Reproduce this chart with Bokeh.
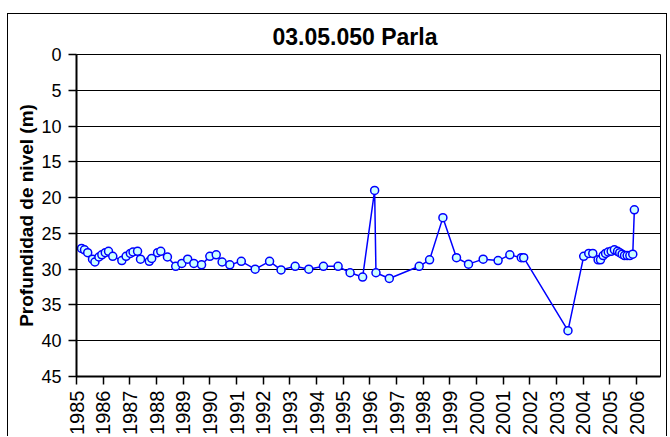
import math
from bokeh.plotting import figure
from bokeh.models import Range1d, FixedTicker
from bokeh.embed import file_html
from bokeh.resources import INLINE

# Decimal dates (years) and water depth (m)
dates = [
    1985.19, 1985.30, 1985.42, 1985.60, 1985.69, 1985.84, 1985.95, 1986.08, 1986.20, 1986.36,
    1986.70, 1986.86, 1987.02, 1987.12, 1987.29, 1987.40, 1987.73, 1987.82, 1988.04, 1988.16,
    1988.41, 1988.72, 1988.95, 1989.17, 1989.40, 1989.69, 1990.00, 1990.24, 1990.46, 1990.75,
    1991.18, 1991.70, 1992.24, 1992.67, 1993.20, 1993.71, 1994.26, 1994.81, 1995.26, 1995.73,
    1996.18, 1996.23, 1996.73, 1997.85, 1998.24, 1998.74, 1999.25, 1999.70, 2000.25, 2000.81,
    2001.25, 2001.68, 2001.77, 2003.43, 2004.02, 2004.21, 2004.36, 2004.56, 2004.65, 2004.75,
    2004.84, 2004.94, 2005.05, 2005.17, 2005.29, 2005.37, 2005.46, 2005.55, 2005.65, 2005.75,
    2005.86, 2005.92,
]
depth = [
    27.1, 27.3, 27.7, 28.6, 29.0, 28.3, 28.0, 27.7, 27.5, 28.2,
    28.8, 28.2, 27.8, 27.6, 27.5, 28.6, 28.9, 28.5, 27.7, 27.5,
    28.3, 29.6, 29.2, 28.6, 29.2, 29.4, 28.2, 28.0, 29.0, 29.4,
    28.9, 30.0, 28.9, 30.1, 29.6, 30.0, 29.6, 29.6, 30.5, 31.1,
    19.0, 30.5, 31.3, 29.6, 28.7, 22.8, 28.4, 29.3, 28.6, 28.8,
    28.0, 28.4, 28.4, 38.6, 28.2, 27.8, 27.8, 28.7, 28.7, 28.1,
    27.8, 27.6, 27.5, 27.3, 27.5, 27.7, 27.9, 28.1, 28.1, 28.1,
    27.9, 21.7,
]
year_ticks = list(range(1985, 2007))
depth_ticks = [0, 5, 10, 15, 20, 25, 30, 35, 40, 45]

FONT = "Liberation Sans"

p = figure(
    width=660, height=423,
    x_range=Range1d(1985, 2006.9), y_range=Range1d(45, 0),
    output_backend="svg", toolbar_location=None,
    title="03.05.050 Parla",
    min_border_left=68, min_border_right=8, min_border_top=40, min_border_bottom=59,
)
p.margin = (13, 0, 0, 7)
p.styles = {"border-top": "1px solid black", "border-left": "1px solid black",
            "border-right": "1px solid black"}

p.title.text_font = FONT
p.title.text_font_size = "23px"
p.title.text_font_style = "bold"
p.title.align = "left"
p.title.offset = 196
p.title.text_color = "black"

p.outline_line_color = "black"
p.outline_line_width = 1

p.xgrid.visible = False
p.ygrid.grid_line_color = "black"
p.ygrid.grid_line_width = 1
p.ygrid.ticker = FixedTicker(ticks=depth_ticks)

p.xaxis.ticker = FixedTicker(ticks=year_ticks)
p.xaxis.major_label_orientation = math.pi / 2
p.yaxis.ticker = FixedTicker(ticks=depth_ticks)

for ax in (p.xaxis[0], p.yaxis[0]):
    ax.axis_line_color = "black"
    ax.axis_line_width = 2
    ax.major_tick_line_color = "black"
    ax.major_tick_line_width = 1.5
    ax.major_tick_out = 8
    ax.major_tick_in = 0
    ax.minor_tick_line_color = None
    ax.major_label_text_font = FONT
    ax.major_label_text_color = "black"
    ax.major_label_standoff = 6

p.yaxis.major_label_text_font_size = "18px"
p.yaxis.major_label_standoff = 7
p.xaxis.major_label_text_font_size = "20px"

p.yaxis.axis_label = "Profundidad de nivel (m)"
p.yaxis.axis_label_text_font = FONT
p.yaxis.axis_label_text_font_size = "19px"
p.yaxis.axis_label_text_font_style = "bold"
p.yaxis.axis_label_text_color = "black"
p.yaxis.axis_label_standoff = 1

p.line(dates, depth, line_color="#0000FF", line_width=1.5)
p.scatter(dates, depth, size=8, marker="circle", line_color="#0000FF",
          line_width=1.5, fill_color="#CCFFFF")

open("out.html", "w").write(file_html(p, INLINE))
